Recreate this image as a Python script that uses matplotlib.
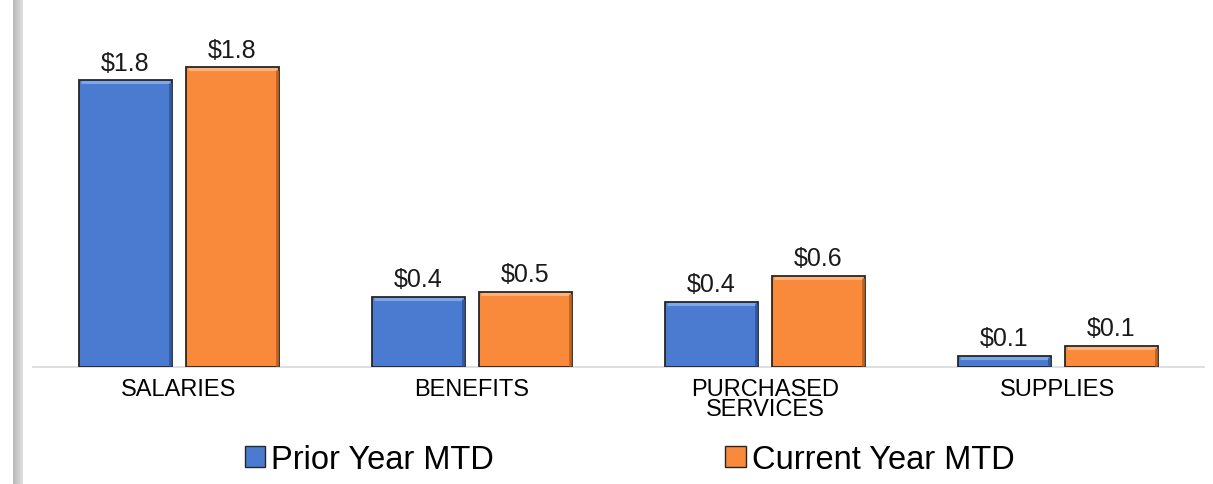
import matplotlib
matplotlib.use('Agg')
import matplotlib.pyplot as plt
import numpy as np
from matplotlib.patches import Patch

plt.rcParams['font.family'] = ['Liberation Sans', 'DejaVu Sans']

categories = ['SALARIES', 'BENEFITS', 'PURCHASED\nSERVICES', 'SUPPLIES']
prior_year = [1.76, 0.43, 0.40, 0.07]
current_year = [1.84, 0.46, 0.56, 0.13]
series_names = ['Prior Year MTD', 'Current Year MTD']

colors = {
    'prior': '#4a7bd0',
    'current': '#f98a3b',
    'edge': '#262626',
    'axis': '#d9d9d9',
}

fig = plt.figure(figsize=(12.13, 4.85), dpi=100)
fig.patch.set_facecolor('white')

# grey strip on the left edge
strip = fig.add_axes([13 / 1213, 0, 10 / 1213, 1])
grad = np.linspace(0.72, 0.88, 64).reshape(1, -1)
strip.imshow(grad, cmap='gray', vmin=0, vmax=1, aspect='auto')
strip.set_axis_off()

ax = fig.add_axes([0.0268, 0.2412, 0.966, 0.7394])
x = np.arange(len(categories))
width = 0.318
offset = 0.183

bars1 = ax.bar(x - offset, prior_year, width, color=colors['prior'],
               edgecolor=colors['edge'], linewidth=1.3, zorder=3)
bars2 = ax.bar(x + offset, current_year, width, color=colors['current'],
               edgecolor=colors['edge'], linewidth=1.3, zorder=3)

# bevel look: light top edge, darker right edge
for bars, hi, lo in [(bars1, '#7fa6e8', '#2f58a0'), (bars2, '#ffb27a', '#c0621f')]:
    for b in bars:
        bx, bw, bh = b.get_x(), b.get_width(), b.get_height()
        ax.plot([bx + 0.008, bx + bw - 0.008], [bh - 0.012, bh - 0.012],
                color=hi, linewidth=2.2, zorder=4, solid_capstyle='butt')
        ax.plot([bx + bw - 0.006, bx + bw - 0.006], [0.005, bh - 0.015],
                color=lo, linewidth=2.0, zorder=4, solid_capstyle='butt')

for bars in (bars1, bars2):
    ax.bar_label(bars, labels=[f'${v:.1f}' for v in bars.datavalues],
                 padding=4, fontsize=18, color='#1a1a1a')

ax.set_xlim(-0.5, 3.5)
ax.set_ylim(0, 2.2)
ax.set_xticks(x)
ax.set_xticklabels(categories, fontsize=17, linespacing=0.9)
ax.tick_params(axis='x', length=0, pad=8)
ax.set_yticks([])
for s in ['top', 'right', 'left']:
    ax.spines[s].set_visible(False)
ax.spines['bottom'].set_color(colors['axis'])
ax.spines['bottom'].set_linewidth(1.2)
ax.set_facecolor('none')

handles = [Patch(facecolor=colors['prior'], edgecolor=colors['edge'], linewidth=1.0),
           Patch(facecolor=colors['current'], edgecolor=colors['edge'], linewidth=1.0)]
fig.legend(handles, series_names, loc='center', bbox_to_anchor=(0.519, 0.05),
           ncol=2, frameon=False, fontsize=23.5, handlelength=0.62, handleheight=0.62,
           handletextpad=0.18, columnspacing=7.1)

plt.savefig('out.png', dpi=100)
plt.close()
